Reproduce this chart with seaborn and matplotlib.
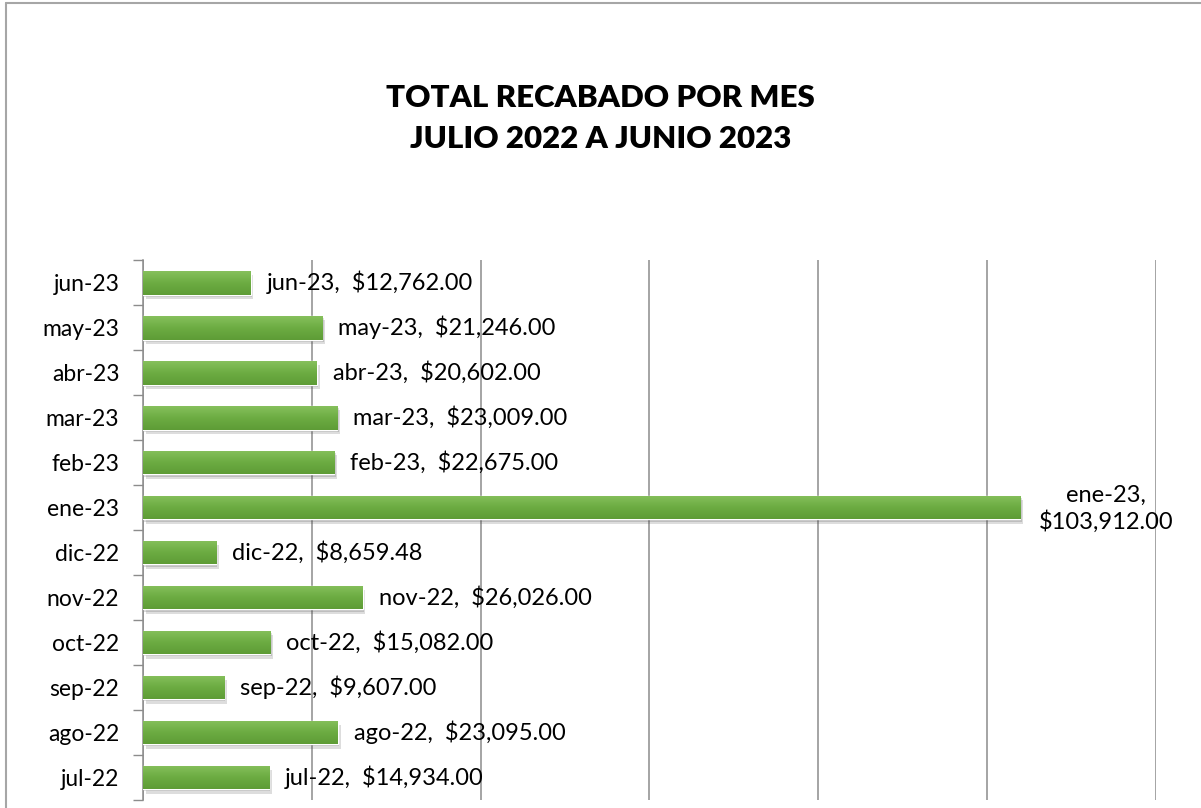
import numpy as np
import pandas as pd
import matplotlib
matplotlib.use("Agg")
import matplotlib.pyplot as plt
import matplotlib.patheffects as pe
from matplotlib.lines import Line2D
import seaborn as sns

# monthly totals, top to bottom as shown
months = ["jun-23", "may-23", "abr-23", "mar-23", "feb-23", "ene-23",
          "dic-22", "nov-22", "oct-22", "sep-22", "ago-22", "jul-22"]
totals = [12762.00, 21246.00, 20602.00, 23009.00, 22675.00, 103912.00,
          8659.48, 26026.00, 15082.00, 9607.00, 23095.00, 14934.00]

sns.set_theme(style="white")
plt.rcParams["font.family"] = ["Lato", "DejaVu Sans"]
plt.rcParams["text.color"] = "black"
plt.rcParams["ytick.color"] = "black"

df = pd.DataFrame({"mes": months, "total": totals})

fig = plt.figure(figsize=(12.01, 8.08), dpi=100)
ax = fig.add_axes([0.119, 0.01, 0.8435, 0.668])

sns.barplot(data=df, y="mes", x="total", orient="h", color="#6aaa3f",
            width=0.53, ax=ax, zorder=3)

# gradient fill + soft shadow on each bar
grad = np.linspace(0, 1, 64).reshape(-1, 1)
cmap = matplotlib.colors.LinearSegmentedColormap.from_list(
    "g", ["#86c05c", "#6cac42", "#5e9c36"])
for bar in ax.patches:
    x0, y0 = bar.get_x(), bar.get_y()
    w, h = bar.get_width(), bar.get_height()
    bar.set_path_effects([pe.SimplePatchShadow(offset=(2, -3), alpha=0.18,
                                               shadow_rgbFace="#444444"),
                          pe.SimplePatchShadow(offset=(1, -1.5), alpha=0.2,
                                               shadow_rgbFace="#444444"),
                          pe.Normal()])
    im = ax.imshow(grad, extent=(x0, x0 + w, y0 + h, y0), aspect="auto",
                   cmap=cmap, zorder=4, origin="upper")
    im.set_clip_path(bar)

ax.set_xlim(0, 120000)
ax.set_ylim(len(months) - 0.5, -0.5)
ax.set_xticks(np.arange(0, 120001, 20000))
ax.set_xticklabels([])
ax.tick_params(axis="x", length=0)
ax.xaxis.grid(True, color="#8c8c8c", linewidth=1.1, zorder=0)
ax.set_axisbelow(True)

# y ticks at category boundaries, labels centered on bars
ax.set_yticks(np.arange(len(months) + 1) - 0.5, minor=False)
ax.set_yticklabels([])
ax.set_yticks(np.arange(len(months)), minor=True)
ax.set_yticklabels(months, minor=True, fontsize=16.5)
ax.tick_params(axis="y", which="major", length=7, width=1, color="#8c8c8c",
               direction="out", left=True)
ax.tick_params(axis="y", which="minor", length=0, pad=17)

for s in ["top", "right", "bottom"]:
    ax.spines[s].set_visible(False)
ax.spines["left"].set_color("#8c8c8c")
ax.spines["left"].set_linewidth(1.1)
ax.set_xlabel("")
ax.set_ylabel("")

# data labels
for i, (m, v) in enumerate(zip(months, totals)):
    off = 1900
    if v > 100000:
        ax.text(v + off + 8300, i + 0.03, f"{m},\n${v:,.2f}", ha="center",
                va="center", fontsize=17, multialignment="center",
                linespacing=1.25, zorder=5)
    else:
        ax.text(v + off, i, f"{m},  ${v:,.2f}", ha="left", va="center",
                fontsize=17, zorder=5)

fig.text(0.5, 0.853, "TOTAL RECABADO POR MES\nJULIO 2022 A JUNIO 2023",
         ha="center", va="center", fontsize=22.5, fontweight="heavy",
         linespacing=1.55)

# outer chart frame
fig.add_artist(Line2D([0.005, 0.005], [0, 0.996], transform=fig.transFigure,
                      color="#a6a6a6", linewidth=1.5))
fig.add_artist(Line2D([0.005, 1], [0.996, 0.996], transform=fig.transFigure,
                      color="#a6a6a6", linewidth=1.5))

fig.savefig("out.png", dpi=100)
